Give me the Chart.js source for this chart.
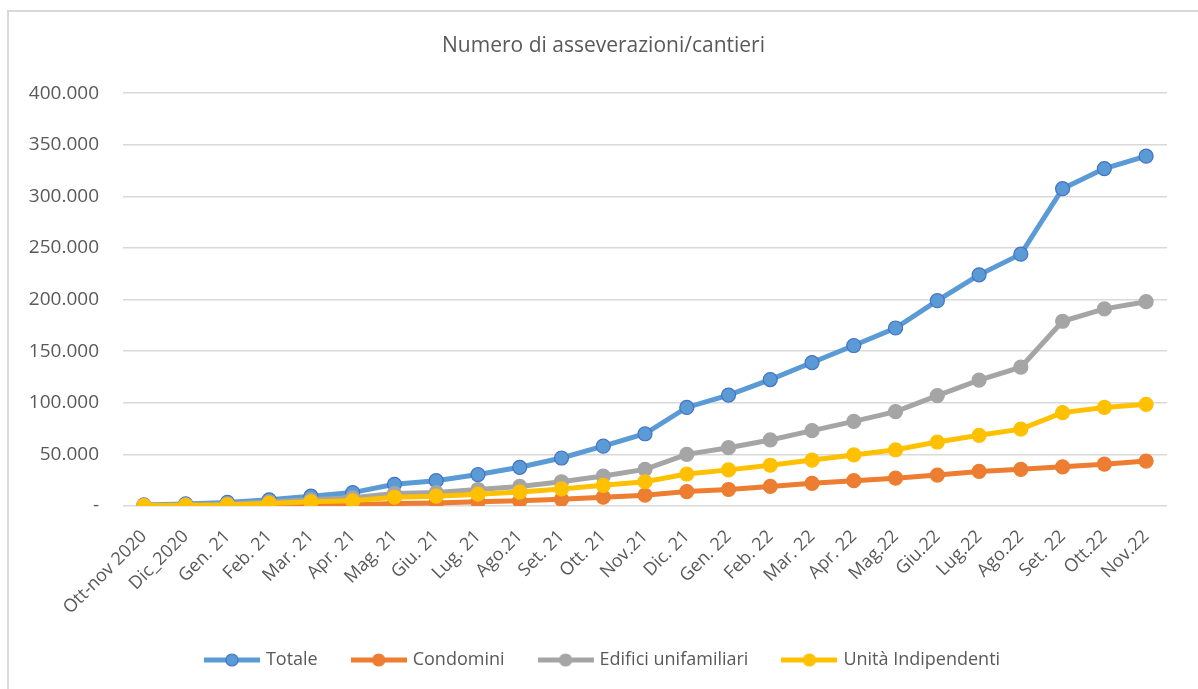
<!DOCTYPE html>
<html>
<head>
<meta charset="utf-8">
<script src="https://cdn.jsdelivr.net/npm/chart.js@4"></script>
<style>
  html, body { margin: 0; padding: 0; background: #fff; overflow: hidden; }
  #chartBox {
    position: absolute; left: 7px; top: 10px;
    width: 1189px; height: 691px;
    border: 2px solid #d9d9d9;
  }
</style>
</head>
<body>
<div id="chartBox"><canvas id="lineChart" width="1189" height="691"></canvas></div>
<script>
const months = ['Ott-nov 2020', 'Dic_2020', 'Gen. 21', 'Feb. 21', 'Mar. 21', 'Apr. 21', 'Mag. 21', 'Giu. 21',
  'Lug. 21', 'Ago.21', 'Set. 21', 'Ott. 21', 'Nov.21', 'Dic. 21', 'Gen. 22', 'Feb. 22', 'Mar. 22',
  'Apr. 22', 'Mag.22', 'Giu.22', 'Lug.22', 'Ago.22', 'Set. 22', 'Ott.22', 'Nov.22'];

const totale = [1000, 2000, 3500, 6000, 9500, 13000, 21000, 24500, 30500, 37500, 46500, 58000, 70000,
  95500, 107500, 122500, 139000, 155500, 172500, 199000, 224000, 244000, 307500, 327000, 339000];
const condomini = [100, 200, 300, 500, 900, 1300, 2500, 3000, 4000, 5000, 6500, 8500, 10500,
  14000, 16000, 19000, 22000, 24500, 27000, 30000, 33500, 35500, 38000, 40500, 43500];
const edifici = [500, 1000, 2000, 4000, 6000, 8000, 12000, 13000, 16000, 19000, 23500, 29000, 35500,
  50000, 56500, 64000, 73000, 82000, 91500, 107000, 122000, 134500, 179000, 191000, 198000];
const unita = [500, 700, 1000, 2500, 4000, 5000, 8500, 9500, 11500, 13500, 16500, 20000, 23500,
  31000, 35000, 39500, 44500, 49500, 54500, 62000, 68500, 74500, 90500, 95500, 98500];

const yTicks = [0, 50000, 100000, 150000, 200000, 250000, 300000, 350000, 400000];

const textColor = '#595959';
const fontFamily = "'Open Sans', 'Liberation Sans', sans-serif";

// small line+marker images for the legend
function legendIcon(color, border) {
    const c = document.createElement('canvas');
    c.width = 56; c.height = 16;
    const g = c.getContext('2d');
    g.strokeStyle = color;
    g.lineWidth = 5;
    g.beginPath(); g.moveTo(0, 8); g.lineTo(56, 8); g.stroke();
    g.fillStyle = color;
    g.strokeStyle = border;
    g.lineWidth = 1.2;
    g.beginPath(); g.arc(28, 8, 6, 0, Math.PI * 2); g.fill(); g.stroke();
    return c;
}

function series(label, data, color, border, order) {
    return {
        label: label,
        data: data,
        borderColor: color,
        backgroundColor: color,
        borderWidth: 5,
        pointRadius: 7,
        pointHoverRadius: 7,
        pointBackgroundColor: color,
        pointBorderColor: border,
        pointBorderWidth: 1.2,
        tension: 0,
        order: order,
        icon: legendIcon(color, border)
    };
}

document.addEventListener('DOMContentLoaded', () => {
    const ctx = document.getElementById('lineChart').getContext('2d');

    new Chart(ctx, {
        type: 'line',
        data: {
            labels: months,
            datasets: [
                series('Totale', totale, '#5B9BD5', '#4472C4', 4),
                series('Condomini', condomini, '#ED7D31', '#ED7D31', 3),
                series('Edifici unifamiliari', edifici, '#A5A5A5', '#A5A5A5', 2),
                series('Unità Indipendenti', unita, '#FFC000', '#FFC000', 1)
            ]
        },
        options: {
            responsive: false,
            animation: false,
            layout: { padding: { left: 0, right: 0, top: 0, bottom: 24 } },
            scales: {
                x: {
                    offset: true,
                    grid: { display: false },
                    border: { display: false },
                    ticks: {
                        color: textColor,
                        font: { family: fontFamily, size: 18 },
                        minRotation: 45,
                        maxRotation: 45,
                        autoSkip: false,
                        padding: 12
                    },
                    afterFit: (scale) => { scale.height = 109; }
                },
                y: {
                    min: 0,
                    max: 400000,
                    border: { display: false },
                    grid: { color: '#d9d9d9', lineWidth: 1.5, drawTicks: false },
                    afterBuildTicks: (scale) => { scale.ticks = yTicks.map(v => ({ value: v })); },
                    ticks: {
                        color: textColor,
                        font: { family: fontFamily, size: 19 },
                        padding: 24,
                        callback: (v) => v === 0 ? '-' : v.toLocaleString('it-IT')
                    },
                    afterFit: (scale) => { scale.width = 114; }
                },
                // empty right-hand gap so the legend stays centred on the whole chart
                yRight: {
                    type: 'linear',
                    position: 'right',
                    grid: { display: false },
                    border: { display: false },
                    ticks: { display: false },
                    afterFit: (scale) => { scale.width = 31; }
                }
            },
            plugins: {
                title: {
                    display: true,
                    text: 'Numero di asseverazioni/cantieri',
                    color: textColor,
                    font: { family: fontFamily, size: 21, weight: 'normal' },
                    padding: { top: 21, bottom: 35 }
                },
                legend: {
                    position: 'bottom',
                    labels: {
                        color: textColor,
                        font: { family: fontFamily, size: 18 },
                        usePointStyle: true,
                        pointStyleWidth: 50,
                        padding: 36,
                        sort: (a, b) => a.datasetIndex - b.datasetIndex,
                        generateLabels: (chart) => {
                            const items = Chart.defaults.plugins.legend.labels.generateLabels(chart);
                            items.forEach(it => {
                                it.pointStyle = chart.data.datasets[it.datasetIndex].icon;
                            });
                            return items;
                        }
                    }
                },
                tooltip: { enabled: false }
            }
        }
    });
});
</script>
</body>
</html>
